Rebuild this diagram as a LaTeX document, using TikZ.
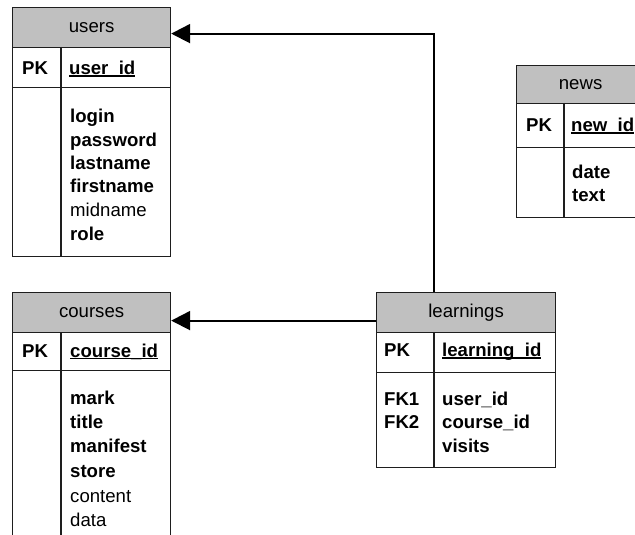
\documentclass[tikz,border=0pt]{standalone}
\usepackage{fontspec}
\setmainfont{Liberation Sans}
\usetikzlibrary{arrows.meta, positioning}

\definecolor{headgray}{RGB}{192,192,192}
\definecolor{rulegray}{RGB}{30,30,30}
\newcommand{\erfont}{\fontsize{18.6pt}{22pt}\selectfont}
\newcommand{\keyfield}[1]{\setbox0\hbox{#1}\rlap{\rule[-2.2pt]{\wd0}{1.4pt}}\box0}

\tikzset{
  tbl/.style = {draw=rulegray, line width=1.2pt},
  head/.style = {tbl, fill=headgray, minimum height=40pt, inner sep=0pt, anchor=north west},
  box/.style = {tbl, inner sep=0pt, anchor=north west},
  fld/.style = {anchor=base west, inner sep=0pt, font=\erfont},
  key/.style = {fld, font=\erfont\bfseries},
  fk/.style = {line width=2pt, -{Triangle[length=19pt,width=19pt]}}
}

\begin{document}
\begin{tikzpicture}[x=1pt, y=-1pt, font=\erfont]
  \clip (0,0) rectangle (635,535);

  % users
  \node[head, minimum width=158pt] (users) at (12,7) {users};
  \node[box, minimum width=158pt, minimum height=40pt] (users-key) at (12,47) {};
  \node[box, minimum width=158pt, minimum height=169pt] (users-body) at (12,87) {};
  \draw[tbl] ([xshift=49pt]users-key.north west) -- ([xshift=49pt]users-body.south west);

  \node[key] (users-pk) at (22,74.5) {PK};
  \node[key] (users-id) at (69,74.5) {\keyfield{user\_id}};
  \node[key] (users-login) at (70,122.5) {login};
  \node[key] (users-password) at (70,146.5) {password};
  \node[key] (users-lastname) at (70,169.5) {lastname};
  \node[key] (users-firstname) at (70,192.8) {firstname};
  \node[fld] (users-midname) at (70,216.7) {midname};
  \node[key] (users-role) at (70,240.5) {role};

  % courses
  \node[head, minimum width=158pt] (courses) at (12,292) {courses};
  \node[box, minimum width=158pt, minimum height=38pt] (courses-key) at (12,332) {};
  \node[box, minimum width=158pt, minimum height=200pt] (courses-body) at (12,370) {};
  \draw[tbl] ([xshift=49pt]courses-key.north west) -- ([xshift=49pt]courses-body.south west);

  \node[key] (courses-pk) at (22,357) {PK};
  \node[key] (courses-id) at (70,357) {\keyfield{course\_id}};
  \node[key] (courses-mark) at (70,404) {mark};
  \node[key] (courses-title) at (70,428.3) {title};
  \node[key] (courses-manifest) at (70,452) {manifest};
  \node[key] (courses-store) at (70,477) {store};
  \node[fld] (courses-content) at (70,502.5) {content};
  \node[fld] (courses-data) at (70,526.7) {data};

  % learnings
  \node[head, minimum width=179pt] (learnings) at (376,292) {learnings};
  \node[box, minimum width=179pt, minimum height=40pt] (learnings-key) at (376,332) {};
  \node[box, minimum width=179pt, minimum height=95pt] (learnings-body) at (376,372) {};
  \draw[tbl] ([xshift=58pt]learnings-key.north west) -- ([xshift=58pt]learnings-body.south west);

  \node[key] (learnings-pk) at (384,356.5) {PK};
  \node[key] (learnings-id) at (442,356.5) {\keyfield{learning\_id}};
  \node[key] (learnings-fk1) at (384,405) {FK1};
  \node[key] (learnings-fk2) at (384,428.3) {FK2};
  \node[key] (learnings-user) at (442,405) {user\_id};
  \node[key] (learnings-course) at (442,428.3) {course\_id};
  \node[key] (learnings-visits) at (442,452.3) {visits};

  % news
  \node[head, minimum width=128pt, minimum height=38pt] (news) at (516,65) {news};
  \node[box, minimum width=128pt, minimum height=44pt] (news-key) at (516,103) {};
  \node[box, minimum width=128pt, minimum height=70pt] (news-body) at (516,147) {};
  \draw[tbl] ([xshift=48pt]news-key.north west) -- ([xshift=48pt]news-body.south west);

  \node[key] (news-pk) at (526,131.5) {PK};
  \node[key] (news-id) at (571,131.5) {\keyfield{new\_id}};
  \node[key] (news-date) at (572,178.3) {date};
  \node[key] (news-text) at (572,201.7) {text};

  % references
  \draw[fk] ([xshift=58pt]learnings.north west) |- ([yshift=-6pt]users.east);
  \draw[fk] ([yshift=-8pt]learnings.west) -- ([yshift=-8pt]courses.east);
\end{tikzpicture}
\end{document}
